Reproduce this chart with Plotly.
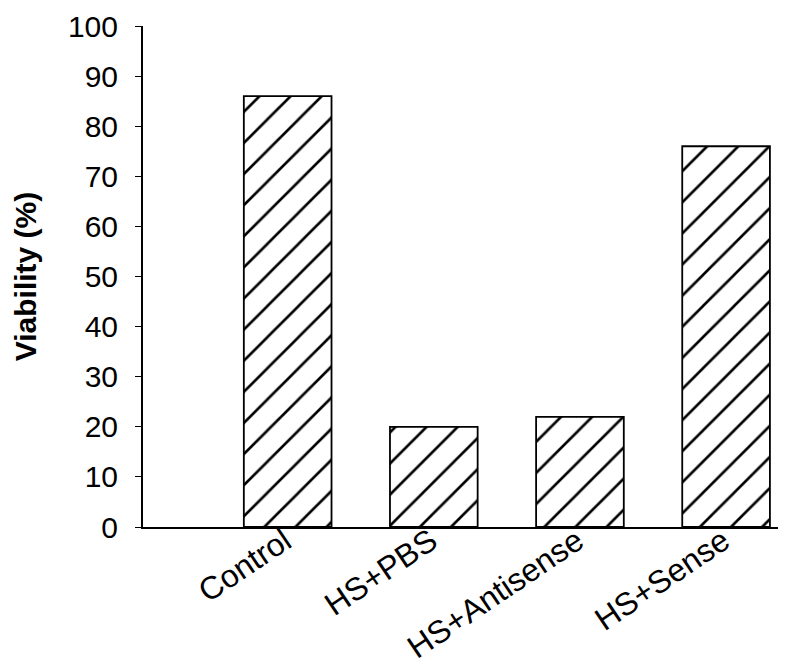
import plotly.graph_objects as go

categories = ["Control", "HS+PBS", "HS+Antisense", "HS+Sense"]
viability = [86, 20, 22, 76]
positions = [0, 1, 2, 3]
y_ticks = [0, 10, 20, 30, 40, 50, 60, 70, 80, 90, 100]

fig = go.Figure(
    go.Bar(
        x=positions,
        y=viability,
        width=0.6,
        marker=dict(
            color="white",
            line=dict(color="black", width=1.8),
            pattern=dict(shape="/", fgcolor="black", fgopacity=1, bgcolor="white",
                         size=22, solidity=0.12, fillmode="overlay"),
        ),
    )
)

font = dict(family="Liberation Sans, Arial, sans-serif", size=30, color="black")
xfont = dict(family="Liberation Sans, Arial, sans-serif", size=32, color="black")
title_font = dict(family="Liberation Sans, Arial, sans-serif", size=30, color="black", weight="bold")

fig.update_layout(
    width=778,
    height=658,
    margin=dict(l=135, r=0, t=18, b=139),
    paper_bgcolor="white",
    plot_bgcolor="white",
    showlegend=False,
    font=font,
    xaxis=dict(
        range=[-0.99, 3.41],
        tickmode="array",
        tickvals=positions,
        ticktext=categories,
        tickangle=-34,
        ticklabelstandoff=-19,
        ticklabelshift=-3,
        showline=True,
        linecolor="black",
        linewidth=2,
        ticks="",
        showgrid=False,
        zeroline=False,
        tickfont=xfont,
        automargin=False,
    ),
    yaxis=dict(
        range=[0, 100],
        tickmode="array",
        tickvals=y_ticks,
        showline=True,
        linecolor="black",
        linewidth=2,
        ticks="outside",
        ticklen=6,
        tickwidth=1.2,
        tickcolor="black",
        ticklabelstandoff=11,
        showgrid=False,
        zeroline=False,
        tickfont=font,
        automargin=False,
        title=dict(text="Viability (%)", font=title_font, standoff=22),
    ),
)

fig.write_html("out.html")
